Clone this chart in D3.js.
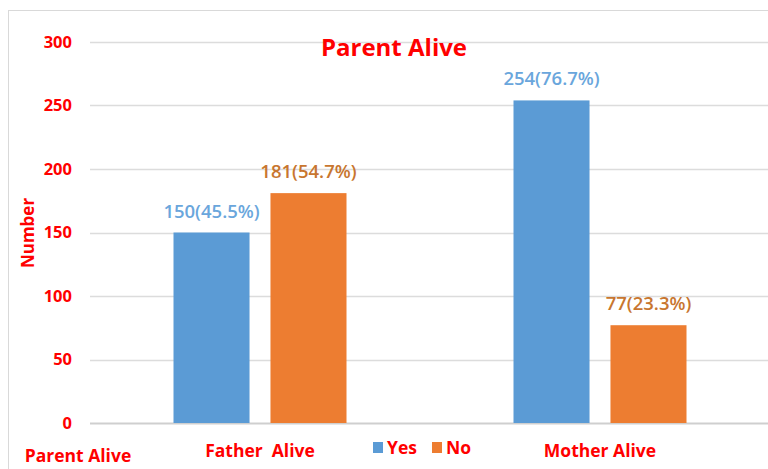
<!DOCTYPE html>
<html>
<head>
<meta charset="utf-8">
<script src="https://cdn.jsdelivr.net/npm/d3@7"></script>
<style>
  body { margin: 0; background: #fff; }
  svg text { font-family: "Open Sans", "DejaVu Sans", sans-serif; font-weight: bold; }
</style>
</head>
<body>
<svg id="chart" width="768" height="469"></svg>
<script>
// chart data
var categories = ["Father  Alive", "Mother Alive"];
var seriesNames = ["Yes", "No"];
var yesValues = [150, 254];
var noValues = [181, 77];
var yesLabels = ["150(45.5%)", "254(76.7%)"];
var noLabels = ["181(54.7%)", "77(23.3%)"];
var yTicks = [0, 50, 100, 150, 200, 250, 300];

var colors = { Yes: "#5b9bd5", No: "#ed7d31" };
var labelColors = { Yes: "#6aa6dc", No: "#c8762f" };
var red = "#ff0000";

var svg = d3.select("#chart");

// outer frame
svg.append("rect")
  .attr("x", 8.5).attr("y", 10.5)
  .attr("width", 780).attr("height", 480)
  .attr("fill", "none")
  .attr("stroke", "#d9d9d9");

var margin = { left: 90, right: -2, top: 42, bottom: 46 };
var width = 768 - margin.left - margin.right;
var height = 423 - margin.top;
var groupWidth = 173;

var g = svg.append("g")
  .attr("transform", "translate(" + margin.left + "," + margin.top + ")");

var x0 = d3.scaleBand().domain(categories).range([0, width]);
var x1 = d3.scaleBand().domain(seriesNames).range([0, groupWidth]).paddingInner(0.216);
var y = d3.scaleLinear().domain([0, 300]).range([height, 0]);

// gridlines
g.selectAll("line.grid")
  .data(yTicks)
  .enter().append("line")
  .attr("class", "grid")
  .attr("x1", 0).attr("x2", width)
  .attr("y1", function(d) { return Math.round(y(d)) + 0.5; })
  .attr("y2", function(d) { return Math.round(y(d)) + 0.5; })
  .attr("stroke", function(d) { return d == 0 ? "#cfcfcf" : "#dcdcdc"; })
  .attr("stroke-width", function(d) { return d == 0 ? 2 : 1.5; });

// y tick labels
g.selectAll("text.ytick")
  .data(yTicks)
  .enter().append("text")
  .attr("class", "ytick")
  .attr("x", -18)
  .attr("y", function(d) { return y(d); })
  .attr("dy", "0.35em")
  .attr("text-anchor", "end")
  .attr("fill", red)
  .style("font-size", "16.5px")
  .text(function(d) { return d; });

// bars
var series = [
  { name: "Yes", values: yesValues, labels: yesLabels },
  { name: "No", values: noValues, labels: noLabels }
];

series.forEach(function(s) {
  var off = function(i) { return x0(categories[i]) + (x0.bandwidth() - groupWidth) / 2 + x1(s.name); };

  g.selectAll("rect.bar-" + s.name)
    .data(s.values)
    .enter().append("rect")
    .attr("class", "bar-" + s.name)
    .attr("x", function(d, i) { return off(i); })
    .attr("y", function(d) { return y(d); })
    .attr("width", x1.bandwidth())
    .attr("height", function(d) { return height - y(d); })
    .attr("fill", colors[s.name]);

  g.selectAll("text.lbl-" + s.name)
    .data(s.values)
    .enter().append("text")
    .attr("class", "lbl-" + s.name)
    .attr("x", function(d, i) { return off(i) + x1.bandwidth() / 2; })
    .attr("y", function(d) { return y(d) - 15; })
    .attr("text-anchor", "middle")
    .attr("fill", labelColors[s.name])
    .style("font-size", "18.5px")
    .style("font-weight", "600")
    .text(function(d, i) { return s.labels[i]; });
});

// category labels
g.selectAll("text.cat")
  .data(categories)
  .enter().append("text")
  .attr("class", "cat")
  .attr("x", function(d) { return x0(d) + x0.bandwidth() / 2; })
  .attr("y", height + 34)
  .attr("text-anchor", "middle")
  .attr("fill", red)
  .style("font-size", "17.5px")
  .style("white-space", "pre")
  .attr("xml:space", "preserve")
  .text(function(d) { return d; });

// axis title below
svg.append("text")
  .attr("x", 78).attr("y", 462)
  .attr("text-anchor", "middle")
  .attr("fill", red)
  .style("font-size", "17.5px")
  .text("Parent Alive");

// y axis title
svg.append("text")
  .attr("transform", "translate(34,233) rotate(-90)")
  .attr("text-anchor", "middle")
  .attr("fill", red)
  .style("font-size", "17px")
  .text("Number");

// chart title
svg.append("text")
  .attr("x", 394).attr("y", 56)
  .attr("text-anchor", "middle")
  .attr("fill", red)
  .style("font-size", "24px")
  .text("Parent Alive");

// legend
var legend = svg.append("g").attr("transform", "translate(373,442)");
var items = legend.selectAll("g.item")
  .data(seriesNames)
  .enter().append("g")
  .attr("class", "item")
  .attr("transform", function(d, i) { return "translate(" + (i * 59) + ",0)"; });

items.append("rect")
  .attr("width", 10).attr("height", 11)
  .attr("fill", function(d) { return colors[d]; });

items.append("text")
  .attr("x", 14).attr("y", 12)
  .attr("fill", red)
  .style("font-size", "17.5px")
  .text(function(d) { return d; });
</script>
</body>
</html>
